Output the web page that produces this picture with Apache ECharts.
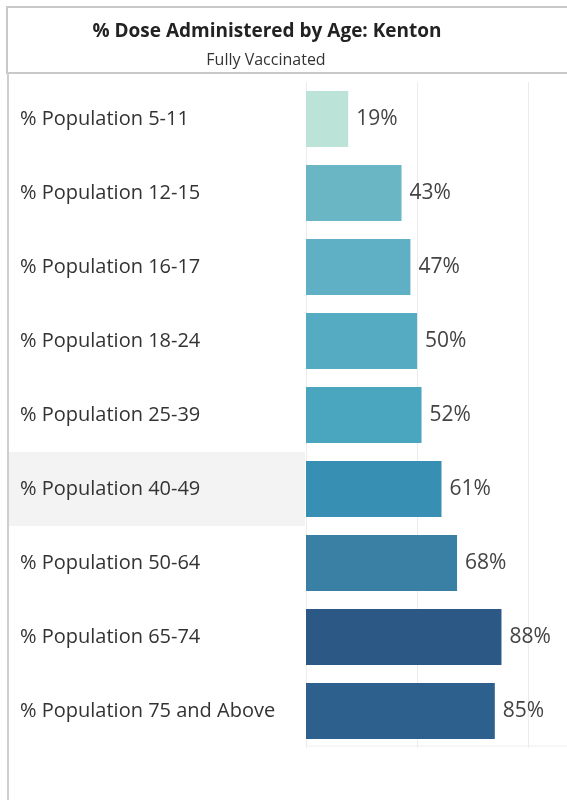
<!DOCTYPE html>
<html>
<head>
<meta charset="utf-8">
<script src="https://cdn.jsdelivr.net/npm/echarts@6/dist/echarts.min.js"></script>
<style>
html,body{margin:0;padding:0;background:#fff;}
#c{width:567px;height:800px;}
</style>
</head>
<body>
<div id="c"></div>
<script>
const categories = ["% Population 5-11","% Population 12-15","% Population 16-17","% Population 18-24","% Population 25-39","% Population 40-49","% Population 50-64","% Population 65-74","% Population 75 and Above"];
const values = [0.19,0.43,0.47,0.50,0.52,0.61,0.68,0.88,0.85];
const barColors = ["#bce3d8","#6ab6c5","#5fb0c4","#55abc1","#4aa5be","#3790b3","#3a7fa4","#2c5886","#2e608d"];
const highlightIndex = 5;
const titleText = "% Dose Administered by Age: Kenton";
const subtitleText = "Fully Vaccinated";

const FONT = "'Open Sans', 'Noto Sans', sans-serif";
const chart = echarts.init(document.getElementById('c'), null, {renderer:'canvas'});
const xMax = 1.175;

const option = {
  animation: false,
  backgroundColor: '#fff',
  grid: { left: 306, top: 82, height: 666, right: 0, containLabel: false },
  xAxis: {
    type: 'value', min: 0, max: xMax, interval: 0.5,
    axisLabel: { show: false }, axisTick: { show: false },
    axisLine: { show: false },
    splitLine: { show: true, lineStyle: { color: '#ececec', width: 1 } }
  },
  yAxis: {
    type: 'category', inverse: true, data: categories,
    axisTick: { show: false },
    axisLine: { show: false },
    axisLabel: { margin: 286, align: 'left', color: '#333', fontSize: 20, fontFamily: FONT }
  },
  series: [{
    type: 'bar',
    data: values.map((v, i) => ({ value: v, itemStyle: { color: barColors[i] } })),
    barCategoryGap: '24%',
    label: {
      show: true, position: 'right', distance: 8,
      color: '#444', fontSize: 21, fontFamily: FONT,
      formatter: p => Math.round(p.value * 100) + '%'
    }
  }]
};
chart.setOption(option);

// derived positions
const y0 = chart.convertToPixel({ yAxisIndex: 0 }, categories[highlightIndex]);
const y1 = chart.convertToPixel({ yAxisIndex: 0 }, categories[highlightIndex + 1]);
const band = y1 - y0;
const x0 = chart.convertToPixel({ xAxisIndex: 0 }, 0);
const gridBottom = 82 + 666;

chart.setOption({
  graphic: [
    { type: 'rect', z: -10, silent: true, shape: { x: 8, y: y0 - band / 2, width: x0 - 9, height: band }, style: { fill: '#f3f3f3' } },
    { type: 'line', z: 10, silent: true, shape: { x1: x0, y1: gridBottom - 2, x2: 567, y2: gridBottom - 2 }, style: { stroke: '#eeeeee', lineWidth: 1 } },
    { type: 'rect', z: 10, silent: true, shape: { x: 7, y: 7, width: 570, height: 66 }, style: { fill: 'none', stroke: '#c9c9c9', lineWidth: 2 } },
    { type: 'line', z: 10, silent: true, shape: { x1: 8, y1: 73, x2: 8, y2: 800 }, style: { stroke: '#cfcfcf', lineWidth: 2 } },
    { type: 'text', z: 11, silent: true, x: 267, y: 32, style: { text: titleText, fill: '#222', font: "bold 19px " + FONT, align: 'center', verticalAlign: 'middle' } },
    { type: 'text', z: 11, silent: true, x: 266, y: 60, style: { text: subtitleText, fill: '#333', font: "16px " + FONT, align: 'center', verticalAlign: 'middle' } }
  ]
});
</script>
</body>
</html>
